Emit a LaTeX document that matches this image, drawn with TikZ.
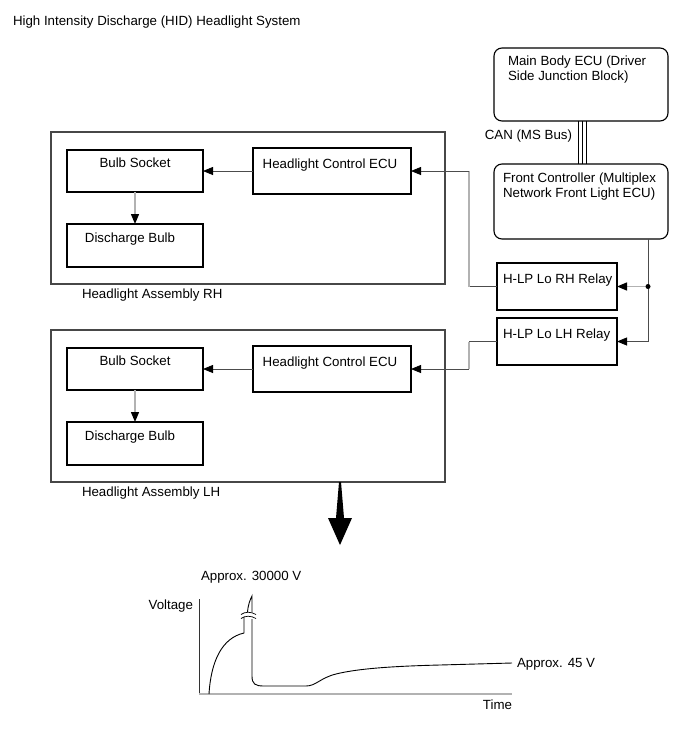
\documentclass[tikz,border=0pt]{standalone}
\usepackage{fontspec}
\setmainfont{Liberation Sans}
\usetikzlibrary{arrows.meta}
\begin{document}
\begin{tikzpicture}[x=1pt,y=-1pt,
  every node/.style={inner sep=0pt, outer sep=0pt},
  txt/.style={font=\fontsize{13.3}{14.5}\selectfont, text=black},
  box/.style={draw=black, line width=1.1pt, rectangle},
  asm/.style={draw=black!72, line width=1.2pt, rectangle},
  rbox/.style={draw=black, line width=1.1pt, rectangle, rounded corners=8pt},
  conn/.style={draw=black!70, line width=0.8pt},
  conng/.style={draw=black!30, line width=1.3pt},
  tip/.style={-{Triangle[length=10pt,width=8pt,color=black,fill=black]}},
  can/.style={draw=black, line width=1.8pt},
  curve/.style={draw=black, line width=0.9pt},
]
\useasboundingbox (0,0) rectangle (690,756);
\fill[white] (0,0) rectangle (690,756);

% title
\node[txt, anchor=base west] (title) at (13,25.5) {High Intensity Discharge (HID) Headlight System};

% main ECUs
\node[rbox, minimum width=174, minimum height=73] (mb) at (581,84.5) {};
\node[txt, anchor=north west, align=left] (mbt) at (508,56) {Main Body ECU (Driver\\Side Junction Block)};
\node[rbox, minimum width=174, minimum height=75] (fc) at (581,201.5) {};
\node[txt, anchor=north west, align=left] (fct) at (503,173) {Front Controller (Multiplex\\Network Front Light ECU)};

% CAN bus
\draw[can] ([xshift=-2.5pt]mb.south) -- ([xshift=-2.5pt]fc.north);
\draw[can] ([xshift=1.5pt]mb.south) -- ([xshift=1.5pt]fc.north);
\draw[can] ([xshift=5.5pt]mb.south) -- ([xshift=5.5pt]fc.north);
\node[txt, anchor=base east] (canl) at (572,139.7) {CAN (MS Bus)};

% relays
\node[box, minimum width=120, minimum height=47] (rr) at (557,286.5) {};
\node[txt, anchor=base west] (rrt) at (503,283.7) {H-LP Lo RH Relay};
\node[box, minimum width=120, minimum height=47] (lr) at (557,341.5) {};
\node[txt, anchor=base west] (lrt) at (503,338.7) {H-LP Lo LH Relay};

\coordinate (j) at (648,286.5);
\coordinate (jl) at (648,341.5);
\draw[conn] (fc.south -| j) -- (jl);
\draw[conn, tip] (jl) -- (lr.east);
\draw[conng, tip] (j) -- (rr.east);
\fill[black] (j) circle (2.5pt);

% RH assembly
\node[asm, minimum width=394, minimum height=152] (asmR) at (248,208) {};
\node[txt, anchor=base west] (asmRt) at (82,298.7) {Headlight Assembly RH};
\node[box, minimum width=136, minimum height=42] (bsR) at (135,171) {};
\node[txt, anchor=base] (bsRt) at (135,167.7) {Bulb Socket};
\node[box, minimum width=136, minimum height=43] (dbR) at (135,245.5) {};
\node[txt, anchor=base] (dbRt) at (130,242.7) {Discharge Bulb};
\node[box, minimum width=158, minimum height=46] (hcR) at (332,171) {};
\node[txt, anchor=base] (hcRt) at (330,168.7) {Headlight Control ECU};
\draw[conn, tip] (hcR.west) -- (bsR.east);
\draw[conng, tip] (bsR.south) -- (dbR.north);

% LH assembly
\node[asm, minimum width=394, minimum height=152] (asmL) at (248,406) {};
\node[txt, anchor=base west] (asmLt) at (82,496.7) {Headlight Assembly LH};
\node[box, minimum width=136, minimum height=42] (bsL) at (135,369) {};
\node[txt, anchor=base] (bsLt) at (135,365.7) {Bulb Socket};
\node[box, minimum width=136, minimum height=43] (dbL) at (135,443.5) {};
\node[txt, anchor=base] (dbLt) at (130,440.7) {Discharge Bulb};
\node[box, minimum width=158, minimum height=46] (hcL) at (332,369) {};
\node[txt, anchor=base] (hcLt) at (330,366.7) {Headlight Control ECU};
\draw[conn, tip] (hcL.west) -- (bsL.east);
\draw[conng, tip] (bsL.south) -- (dbL.north);

% relay wires
\coordinate (wR) at (469,286.5);
\coordinate (wL) at (469,341.5);
\draw[conn] (rr.west) -- (wR);
\draw[conng] (wR) -- (wR |- hcR.east);
\draw[conn, tip] (wR |- hcR.east) -- (hcR.east);
\draw[conn] (lr.west) -- (wL);
\draw[conng] (wL) -- (wL |- hcL.east);
\draw[conn, tip] (wL |- hcL.east) -- (hcL.east);

% big arrow
\coordinate (ba) at (340,482);
\fill[black] (ba) ++(-1,0) -- ++(2,0) -- ++(3,36) -- ++(8,0) -- ++(-12,27) -- ++(-12,-27) -- ++(8,0) -- cycle;

% graph
\coordinate (o) at (199,694);
\draw[draw=black!80, line width=0.9pt] (o) -- (199,599);
\draw[draw=black!30, line width=1.6pt] (o) -- (512,694);
\node[txt, anchor=base west] (v30) at (201,580.7) {Approx. 30000 V};
\node[txt, anchor=base east] (volt) at (193,609.7) {Voltage};
\node[txt, anchor=base east] (time) at (512,709.7) {Time};
\node[txt, anchor=base west] (v45) at (517,667.7) {Approx. 45 V};

\draw[curve] (209,694) .. controls (211,661) and (222,638) .. (244,633) -- (244,617);
\draw[curve] (247.5,612) .. controls (248,605) and (250,600) .. (252,596) -- (252,612);
\draw[curve, line width=0.7pt] (241,614.5) .. controls (245,611.5) and (251,611.5) .. (256,614.5);
\draw[curve, line width=0.7pt] (241,618.5) .. controls (245,615.5) and (251,615.5) .. (256,618.5);
\draw[curve] (252,619) -- (252,676) .. controls (252,684) and (255,686) .. (264,686) -- (306,686)
  .. controls (316,686) and (320,678) .. (336,674) .. controls (360,668) and (400,666) .. (440,665) -- (512,663);
\end{tikzpicture}
\end{document}
